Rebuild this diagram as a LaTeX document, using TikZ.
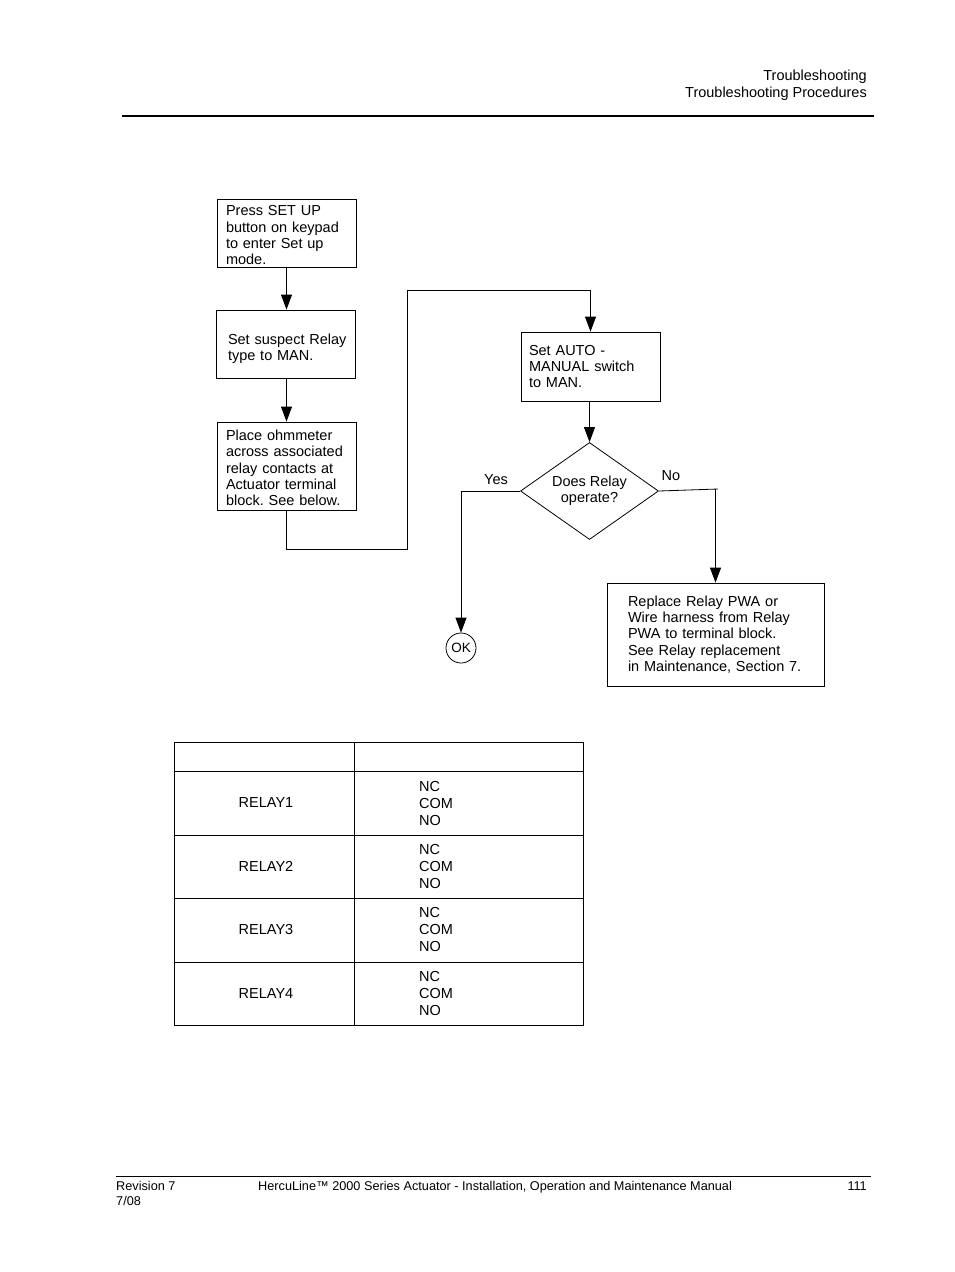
\documentclass[tikz,border=0pt]{standalone}
\usepackage{fontspec}
\setmainfont{Liberation Sans}
\usepackage{tikz}
\usetikzlibrary{shapes.geometric, arrows.meta, positioning}
\frenchspacing

\begin{document}
\begin{tikzpicture}[x=1pt, y=-1pt,
    every node/.style={font=\fontsize{14.5}{16.3}\selectfont},
    stepbox/.style={draw, line width=0.8pt, align=left, inner ysep=0pt},
    decision/.style={draw, diamond, line width=0.8pt, align=center, inner sep=0pt,
        aspect=1.42, minimum width=138, minimum height=97},
    endpoint/.style={draw, circle, line width=0.8pt, inner sep=0pt, minimum size=30},
    flow/.style={line width=0.8pt, -{Triangle[length=15pt, width=11pt]}},
    wire/.style={line width=0.8pt},
    cell/.style={inner sep=0pt, anchor=center},
    pagetext/.style={inner sep=0pt, anchor=base}]

    % Page frame
    \useasboundingbox (0,0) rectangle (954,1272);

    % Header
    \node[pagetext, anchor=base east] (head1) at (867,80) {Troubleshooting};
    \node[pagetext, anchor=base east] (head2) at (867,97) {Troubleshooting Procedures};
    \draw[line width=2.5pt] (122,116) -- (874,116);

    % Left column of steps
    \node[stepbox, minimum height=68, text width=121, inner xsep=9, text height=14.5] (setup) at (286.5,233)
        {Press SET UP\\button on keypad\\to enter Set up\\mode.};
    \node[stepbox, minimum height=68, text width=115, inner xsep=12, text height=20.5] (suspect) at (285.5,344)
        {\mbox{Set suspect Relay}\\type to MAN.};
    \node[stepbox, minimum height=88, text width=121, inner xsep=9, text height=14.5] (ohm) at (286.5,466)
        {Place ohmmeter\\across associated\\relay contacts at\\Actuator terminal\\block. See below.};

    % Right column of steps
    \node[stepbox, minimum height=69, text width=123, inner xsep=8] (auto) at (590.5,366.5)
        {Set AUTO -\\MANUAL switch\\to MAN.};
    \node[decision] (operate) at (589.5,491) {Does Relay\\operate?};
    \node[endpoint, font=\fontsize{13.5}{15}\selectfont] (ok) at (461,648) {OK};
    \node[stepbox, minimum height=103, text width=175, inner xsep=21] (replace) at (715.5,634.5)
        {Replace Relay PWA or\\Wire harness from Relay\\PWA to terminal block.\\See Relay replacement\\in Maintenance, Section 7.};

    % Branch labels
    \node[pagetext] (yes) at (496,484) {Yes};
    \node[pagetext] (no) at (671,480) {No};

    % Connectors
    \coordinate (riseL) at (407,549);
    \coordinate (riseR) at (407,290);
    \coordinate (nostub) at (718,489);
    \draw[flow] (setup.south) -- (setup.south |- suspect.north);
    \draw[flow] (suspect.south -| ohm.north) -- (ohm.north);
    \draw[flow] (ohm.south) |- (riseL) -- (riseR) -| (auto.north);
    \draw[flow] (auto.south -| operate.north) -- (operate.north);
    \draw[flow] (operate.west) -| (ok.north);
    \draw[wire] (operate.east) -- (nostub);
    \draw[flow] (nostub -| replace.north) -- (replace.north);

    % Relay contact table
    \draw[wire] (174,742) rectangle (583,1025);
    \draw[wire] (354,742) -- (354,1025);
    \foreach \yl in {771,835,898,962}
        \draw[wire] (174,\yl) -- (583,\yl);
    \foreach \i/\yc in {1/803,2/866.5,3/929.5,4/993}
    {
        \node[cell] (relay\i) at (266,\yc) {RELAY\i};
        \node[cell, anchor=west, align=left, font=\fontsize{14.5}{17}\selectfont] (contacts\i) at (419,\yc)
            {NC\\COM\\NO};
    }

    % Footer
    \draw[line width=0.8pt] (116,1176) -- (871,1176);
    \node[pagetext, anchor=base west, font=\fontsize{12.7}{15}\selectfont] (rev) at (116,1190.5) {Revision 7};
    \node[pagetext, anchor=base west, font=\fontsize{12.7}{15}\selectfont] (date) at (116,1205.5) {7/08};
    \node[pagetext, anchor=base west, font=\fontsize{12.7}{15}\selectfont] (title) at (258,1190.5)
        {HercuLine™ 2000 Series Actuator - Installation, Operation and Maintenance Manual};
    \node[pagetext, anchor=base east, font=\fontsize{12.7}{15}\selectfont] (page) at (867,1190.5) {111};
\end{tikzpicture}
\end{document}
